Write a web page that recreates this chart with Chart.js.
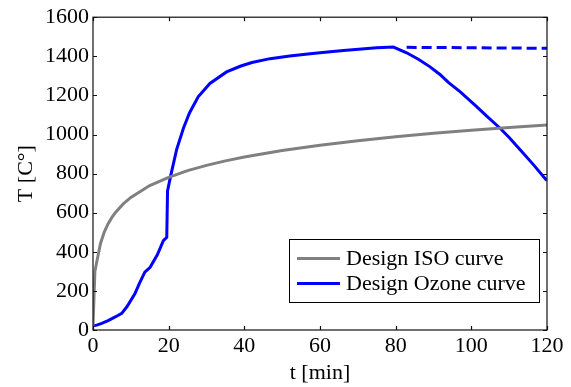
<!DOCTYPE html>
<html><head><meta charset="utf-8">
<script src="https://cdn.jsdelivr.net/npm/chart.js@4/dist/chart.umd.min.js"></script>
<style>html,body{margin:0;padding:0;background:#fff}#wrap{width:571px;height:387px}</style>
</head><body><div id="wrap"><canvas id="c" width="571" height="387"></canvas></div>
<script>
const xTicks = [0,20,40,60,80,100,120];
const yTicks = [0,200,400,600,800,1000,1200,1400,1600];
const isoTime = [0,0.5,1,2,3,4,5,6,8,10,15,20,25,30,35,40,45,50,60,70,80,90,100,110,120];
const isoTemp = [20,300,349,444,502,544,576,603,645,678,739,781,815,842,865,885,902,918,945,968,988,1006,1022,1036,1049];
const ozoneTime = [0,1,2.3,4,6,7.6,9,11.1,12.3,13.7,15.1,17,18.6,19.5,19.7,20.6,22.1,23.9,25.5,27.8,30.9,35.3,38.9,42,46.8,52,57.4,62,66.2,71,75,79.4,82.9,86,89.1,91.7,94,97,101.4,104,107.6,110,112.9,116.4,119.7,120];
const ozoneTemp = [22,25,34,48,68,85,120,186,240,296,321,385,457,474,711,795,923,1032,1110,1193,1261,1320,1349,1368,1388,1402,1413,1422,1430,1437,1444,1447,1418,1385,1346,1307,1265,1219,1143,1095,1032,985,922,846,770,765];
const plateauTime = [82.9,120];
const plateauTemp = [1446,1441];
const seriesLabels = ['Design ISO curve','Design Ozone curve'];

const pts = (xs, ys) => xs.map((x,i)=>({x, y: ys[i]}));
const FONT = 'Liberation Serif, Times New Roman, serif';
const FS = 22;

const frameAndLegend = {
  id: 'frameAndLegend',
  afterDraw(chart) {
    const {ctx, chartArea: a, scales: {x, y}} = chart;
    ctx.save();
    ctx.strokeStyle = '#111';
    ctx.lineWidth = 1.2;
    ctx.beginPath();
    const tl = 4;
    x.ticks.forEach(t => {
      const px = Math.round(x.getPixelForValue(t.value)) + 0.5;
      ctx.moveTo(px, a.bottom); ctx.lineTo(px, a.bottom - tl);
      ctx.moveTo(px, a.top); ctx.lineTo(px, a.top + tl);
    });
    y.ticks.forEach(t => {
      const py = Math.round(y.getPixelForValue(t.value)) + 0.5;
      ctx.moveTo(a.left, py); ctx.lineTo(a.left + tl, py);
      ctx.moveTo(a.right, py); ctx.lineTo(a.right - tl, py);
    });
    ctx.stroke();
    ctx.strokeRect(a.left, a.top, a.right - a.left, a.bottom - a.top);
    // legend
    const lx = 289.5, ly = 239.5, lw = 250, lh = 63;
    ctx.fillStyle = '#fff';
    ctx.fillRect(lx, ly, lw, lh);
    ctx.lineWidth = 1;
    ctx.strokeStyle = '#000';
    ctx.strokeRect(lx, ly, lw, lh);
    ctx.font = FS + 'px ' + FONT;
    ctx.textBaseline = 'middle';
    ctx.fillStyle = '#000';
    const rows = [258.5, 283.5];
    chart.data.datasets.slice(0,2).forEach((ds, i) => {
      ctx.strokeStyle = ds.borderColor;
      ctx.lineWidth = 3;
      ctx.setLineDash([]);
      ctx.beginPath();
      ctx.moveTo(297, rows[i]); ctx.lineTo(340, rows[i]);
      ctx.stroke();
      ctx.fillText(ds.label, 346, rows[i] + 1);
    });
    ctx.restore();
  }
};

new Chart(document.getElementById('c'), {
  type: 'line',
  data: {
    datasets: [
      {label: seriesLabels[0], data: pts(isoTime, isoTemp), borderColor: '#808080', borderWidth: 3, pointRadius: 0, tension: 0, fill: false},
      {label: seriesLabels[1], data: pts(ozoneTime, ozoneTemp), borderColor: '#0000ff', borderWidth: 3, pointRadius: 0, tension: 0, fill: false},
      {label: 'plateau', data: pts(plateauTime, plateauTemp), borderColor: '#0000ff', borderWidth: 3, borderDash: [10,5], pointRadius: 0, tension: 0, fill: false}
    ]
  },
  options: {
    responsive: false,
    animation: false,
    devicePixelRatio: 1,
    layout: {padding: {left: 0, top: 15, right: 24, bottom: 0}},
    plugins: {legend: {display: false}, tooltip: {enabled: false}},
    scales: {
      x: {
        type: 'linear', min: 0, max: 120,
        afterBuildTicks: s => { s.ticks = xTicks.map(v => ({value: v})); },
        afterFit: s => { s.height = 57; },
        grid: {display: false, drawTicks: false},
        border: {display: false},
        ticks: {padding: 3, color: '#000', font: {family: FONT, size: FS}, maxRotation: 0, callback: v => String(v)},
        title: {display: true, text: 't [min]', color: '#000', font: {family: FONT, size: FS}, padding: {top: 0, bottom: 1}}
      },
      y: {
        type: 'linear', min: 0, max: 1600,
        afterBuildTicks: s => { s.ticks = yTicks.map(v => ({value: v})); },
        afterFit: s => { s.width = 93; },
        grid: {display: false, drawTicks: false},
        border: {display: false},
        ticks: {padding: 4, color: '#000', font: {family: FONT, size: FS}, callback: v => String(v)},
        title: {display: true, text: 'T [C°]', color: '#000', font: {family: FONT, size: FS}, padding: {top: 13, bottom: 0}}
      }
    }
  },
  plugins: [frameAndLegend]
});
</script>
</body></html>
